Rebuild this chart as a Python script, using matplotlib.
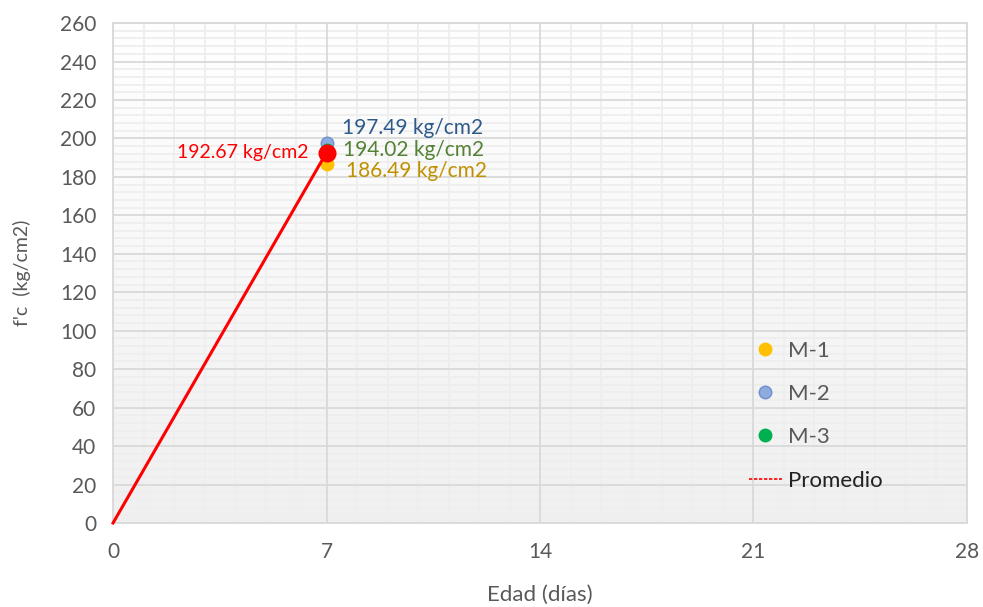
import numpy as np
import matplotlib
matplotlib.use("Agg")
import matplotlib.pyplot as plt
from matplotlib.lines import Line2D
from matplotlib.ticker import FixedLocator

plt.rcParams["font.family"] = ["Lato", "DejaVu Sans"]

# Compressive strength at 7 days for each sample, plus the average line
edad = [0, 7]
promedio = [0, 192.67]
dia_ensayo = 7
m1 = 186.49
m2 = 197.49
m3 = 194.02
x_ticks = [0, 7, 14, 21, 28]
y_ticks = list(range(0, 261, 20))

TXT = "#595959"
fig = plt.figure(figsize=(9.83, 6.07), dpi=100)
ax = fig.add_axes([0.115, 0.1384, 0.8687, 0.8236])

# soft vertical gradient in the plotting area
grad = np.linspace(0.94, 1.0, 256).reshape(-1, 1)
ax.imshow(np.dstack([grad, grad, grad]), extent=[0, 1, 0, 1], transform=ax.transAxes,
          aspect="auto", origin="lower", zorder=-2, interpolation="bilinear")

ax.set_xlim(0, 28)
ax.set_ylim(0, 260)
ax.set_xticks(x_ticks)
ax.set_yticks(y_ticks)
ax.xaxis.set_minor_locator(FixedLocator([v for v in range(0, 29) if v % 7]))
ax.yaxis.set_minor_locator(FixedLocator([v for v in range(0, 261, 4) if v % 20]))
ax.set_axisbelow(True)
ax.grid(which="minor", color="#eeeeee", linewidth=1.3)
# major grid drawn on top of the minor one
for v in x_ticks:
    ax.axvline(v, color="#d9d9d9", lw=1.3, zorder=1)
for v in y_ticks:
    ax.axhline(v, color="#d9d9d9", lw=1.3, zorder=1)
ax.tick_params(which="both", length=0, labelsize=15, colors=TXT, pad=12)
ax.tick_params(axis="x", pad=14)
for s in ax.spines.values():
    s.set_color("#d9d9d9")
    s.set_linewidth(1.3)

ax.set_xlabel("Edad (días)", fontsize=16, color=TXT, labelpad=16)
ax.set_ylabel("f'c  (kg/cm2)", fontsize=14, color=TXT, labelpad=21)

# samples
ax.plot([dia_ensayo], [m1], "o", ms=9, color="#ffc000", mec="#ffc000", zorder=3, clip_on=False)
ax.plot([dia_ensayo], [m2], "o", ms=9, color="#8faadc", mec="#6f8fcf", zorder=3, clip_on=False)
ax.plot([dia_ensayo], [m3], "o", ms=9, color="#00b050", mec="#00b050", zorder=3, clip_on=False)
# average
ax.plot(edad, promedio, "-", color="#ff0000", lw=2.2, zorder=4, clip_on=False)
ax.plot(edad[-1:], promedio[-1:], "o", ms=12, color="#ff0000", zorder=5, clip_on=False)

# value labels
ax.annotate(f"{m2:.2f} kg/cm2", (dia_ensayo, m2), xytext=(11, 11), textcoords="offset points",
            fontsize=15, color="#2e5a8a", va="center", ha="left")
ax.annotate(f"{m3:.2f} kg/cm2", (dia_ensayo, m3), xytext=(12, 0), textcoords="offset points",
            fontsize=15, color="#548235", va="center", ha="left")
ax.annotate(f"{m1:.2f} kg/cm2", (dia_ensayo, m1), xytext=(14, -5), textcoords="offset points",
            fontsize=15, color="#bf9000", va="center", ha="left")
ax.annotate(f"{promedio[-1]:.2f} kg/cm2", (edad[-1], promedio[-1]), xytext=(-13, 0),
            textcoords="offset points", fontsize=14, color="#ff0000", va="center", ha="right")

handles = [
    Line2D([], [], ls="none", marker="o", ms=9, color="#ffc000"),
    Line2D([], [], ls="none", marker="o", ms=9, color="#8faadc", mec="#6f8fcf"),
    Line2D([], [], ls="none", marker="o", ms=9, color="#00b050"),
    Line2D([], [], ls=(0, (2, 1)), lw=1.2, color="#ff0000"),
]
leg = ax.legend(handles, ["M-1", "M-2", "M-3", "Promedio"], loc="upper left",
                bbox_to_anchor=(0.721, 0.405), frameon=False, fontsize=16,
                labelspacing=1.05, handlelength=1.5, handletextpad=0.25)
for t in leg.get_texts():
    t.set_color(TXT)
leg.get_texts()[3].set_color("#222222")

fig.savefig("out.png", dpi=100, facecolor="white")
